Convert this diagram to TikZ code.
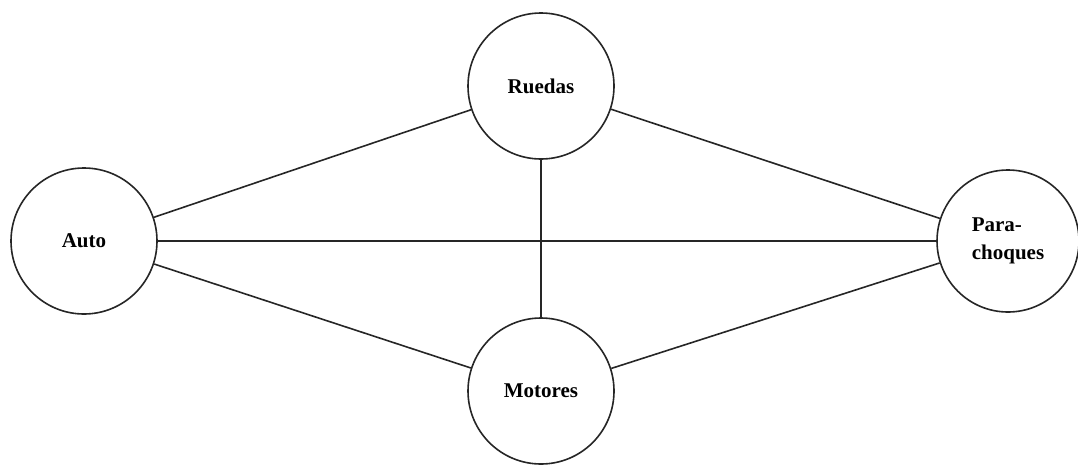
\documentclass[tikz,border=0pt]{standalone}
\usepackage{fontspec}
\setmainfont{Liberation Serif}
\begin{document}
\begin{tikzpicture}[x=1pt,y=-1pt,
  entity/.style={circle,draw=black!85,line width=1.6pt,minimum size=146pt,inner sep=0pt,
    font=\fontsize{21}{28}\selectfont\bfseries},
  link/.style={draw=black!85,line width=1.6pt}]
\useasboundingbox (0,0) rectangle (1078,464);
\node[entity] (auto) at (84,241) {Auto};
\node[entity] (ruedas) at (541,86) {Ruedas};
\node[entity] (motores) at (541,391) {Motores};
\node[entity,minimum size=142pt,align=left] (para) at (1008,241) {Para-\\choques};
\draw[link] (auto) -- (ruedas);
\draw[link] (auto) -- (motores);
\draw[link] (auto.east) -- (para.west);
\draw[link] (ruedas) -- (motores);
\draw[link] (ruedas) -- (para);
\draw[link] (motores) -- (para);
\end{tikzpicture}
\end{document}
